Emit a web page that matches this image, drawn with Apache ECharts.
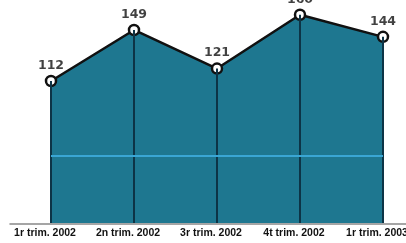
<!DOCTYPE html>
<html>
<head>
<meta charset="utf-8">
<script src="https://cdn.jsdelivr.net/npm/echarts@6/dist/echarts.min.js"></script>
<style>
  html, body { margin: 0; padding: 0; background: #fff; }
  #chart { width: 406px; height: 243px; }
</style>
</head>
<body>
<div id="chart"></div>
<script>
// trimestres i valors
var categories = ['1r trim. 2002', '2n trim. 2002', '3r trim. 2002', '4t trim. 2002', '1r trim. 2003']
var values = [112, 149, 121, 160, 144]
var refLine = 58

var chart = echarts.init(document.getElementById('chart'))
chart.setOption({
  animation: false,
  grid: [
    { left: 51, right: 23, top: 1, bottom: 20, outerBoundsMode: 'none', containLabel: false },
    { left: 10, right: 0, top: 1, bottom: 19, outerBoundsMode: 'none', containLabel: false }
  ],
  xAxis: [{
    type: 'category',
    data: categories,
    boundaryGap: false,
    gridIndex: 0,
    axisLine: { show: false },
    axisTick: { show: false },
    axisLabel: {
      interval: 0,
      margin: 5,
      color: '#111',
      fontFamily: "'Liberation Sans', Arial, sans-serif",
      fontWeight: 'bold',
      fontSize: 10.5,
      padding: [0, 12, 0, 0]
    }
  }, {
    type: 'value',
    gridIndex: 1,
    min: 0,
    max: 1,
    axisLine: { show: true, lineStyle: { color: '#888', width: 1.5 } },
    axisTick: { show: false },
    axisLabel: { show: false },
    splitLine: { show: false }
  }],
  yAxis: [{
    type: 'value',
    gridIndex: 0,
    min: 9,
    max: 170,
    show: false
  }, {
    type: 'value',
    gridIndex: 1,
    show: false
  }],
  series: [{
    type: 'line',
    data: values,
    z: 3,
    symbol: 'circle',
    symbolSize: 10,
    lineStyle: { color: '#111', width: 2.5 },
    itemStyle: { color: '#fff', borderColor: '#111', borderWidth: 2.5 },
    areaStyle: { color: '#1e7790', opacity: 1 },
    markLine: {
      silent: true,
      symbol: 'none',
      label: { show: false },
      lineStyle: { color: '#3aa6d4', width: 2, type: 'solid' },
      data: [{ yAxis: refLine }]
    }
  }, {
    // valors sobre els punts
    type: 'scatter',
    data: values,
    z: 5,
    symbolSize: 10,
    itemStyle: { color: 'rgba(0,0,0,0)' },
    label: {
      show: true,
      position: 'top',
      distance: 4,
      color: '#111',
      fontFamily: 'DejaVu Sans',
      fontWeight: 'bold',
      fontSize: 12.5
    },
    labelLayout: { hideOverlap: false }
  }, {
    type: 'bar',
    data: values,
    z: 4,
    barWidth: 2,
    itemStyle: { color: '#0d3446' }
  }]
})
</script>
</body>
</html>
